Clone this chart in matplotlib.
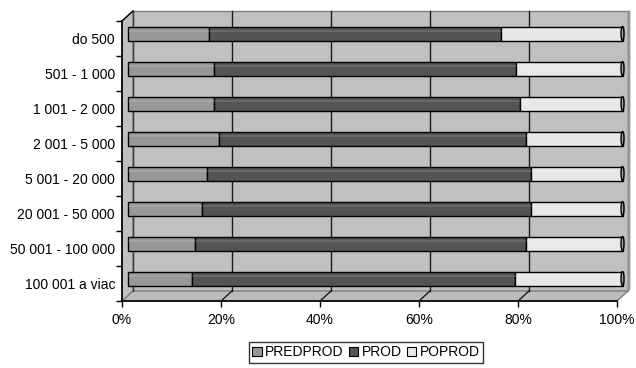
import numpy as np
import matplotlib
matplotlib.use('Agg')
import matplotlib.pyplot as plt
from matplotlib.patches import Polygon, Rectangle, Ellipse
from matplotlib.transforms import ScaledTranslation
from matplotlib.lines import Line2D

plt.rcParams['font.family'] = ['Liberation Sans', 'DejaVu Sans']

# Data (share in %)
categories = ['do 500', '501 - 1 000', '1 001 - 2 000', '2 001 - 5 000',
              '5 001 - 20 000', '20 001 - 50 000', '50 001 - 100 000', '100 001 a viac']
predprod = [16.5, 17.5, 17.5, 18.5, 16.0, 15.0, 13.7, 13.0]
prod = [59.0, 61.0, 61.8, 62.0, 65.5, 66.5, 66.8, 65.3]
poprod = [24.5, 21.5, 20.7, 19.5, 18.5, 18.5, 19.5, 21.7]
series_names = ['PREDPROD', 'PROD', 'POPROD']
colors = ['#989898', '#545454', '#e8e8e8']
xticks = [0, 20, 40, 60, 80, 100]

W, H = 636, 368
fig = plt.figure(figsize=(W / 100, H / 100), dpi=100)
ax = fig.add_axes([122 / W, 1 - 301 / H, 495 / W, 280 / H])
ax.set_xlim(0, 100)
ax.set_ylim(len(categories) - 0.5, -0.5)
for s in ax.spines.values():
    s.set_visible(False)
ax.patch.set_visible(False)

DX, DY = 11, 10  # depth offset in pixels
back = ax.transData + ScaledTranslation(DX / 100, DY / 100, fig.dpi_scale_trans)
mid = ax.transData + ScaledTranslation(DX / 200, DY / 200, fig.dpi_scale_trans)


def disp(x, y, dx=0, dy=0):
    px, py = ax.transAxes.transform((x, y))
    return (px + dx, py + dy)


# back wall, side wall, floor
wall = Polygon([disp(0, 0, DX, DY), disp(1, 0, DX, DY), disp(1, 1, DX, DY), disp(0, 1, DX, DY)],
               closed=True, transform=None, facecolor='#c0c0c0', edgecolor='#808080', lw=1, zorder=0)
side = Polygon([disp(0, 0), disp(0, 0, DX, DY), disp(0, 1, DX, DY), disp(0, 1)],
               closed=True, transform=None, facecolor='#c0c0c0', edgecolor='#808080', lw=1, zorder=0)
floor = Polygon([disp(0, 0), disp(1, 0), disp(1, 0, DX, DY), disp(0, 0, DX, DY)],
                closed=True, transform=None, facecolor='#bcbcbc', edgecolor='#808080', lw=1, zorder=0)
rside = Polygon([disp(1, 0, DX, DY), disp(1, 0, DX + 2, DY + 2), disp(1, 1, DX + 2, DY), disp(1, 1, DX, DY)],
                closed=True, transform=None, facecolor='#9a9a9a', edgecolor='#909090', lw=0.5, zorder=0)
for p in (wall, side, floor, rside):
    fig.add_artist(p)

# gridlines on back wall and floor
ylo, yhi = ax.get_ylim()
for xt in xticks[1:-1]:
    ax.plot([xt, xt], [ylo, yhi], color='#1a1a1a', lw=1, transform=back, zorder=1, clip_on=False)
    p0 = ax.transData.transform((xt, ylo))
    fig.add_artist(Line2D([p0[0], p0[0] + DX], [p0[1], p0[1] + DY], color='#1a1a1a', lw=1,
                          transform=None, zorder=1))
ax.plot([0, 0], [ylo, yhi], color='#404040', lw=1, transform=back, zorder=1, clip_on=False)
tl = disp(0, 1)
fig.add_artist(Line2D([tl[0], tl[0] + DX], [tl[1], tl[1] + DY], color='black', lw=1, transform=None))

# bars
y = np.arange(len(categories))
left = np.zeros(len(categories))
bh = 0.4
for vals, col, name in zip([predprod, prod, poprod], colors, series_names):
    vals = np.array(vals)
    ax.barh(y, vals, left=left, height=bh, color=col, edgecolor='black', lw=1,
            transform=mid, zorder=3, clip_on=False, label=name)
    # light band for cylinder look
    ax.barh(y - bh * 0.18, vals, left=left, height=bh * 0.2, color='white', alpha=0.12,
            lw=0, transform=mid, zorder=4, clip_on=False)
    left = left + vals
# end caps
for yi, xe in zip(y, left):
    ax.add_patch(Ellipse((xe, yi), 0.6, bh, facecolor='#a0a0a0', edgecolor='black', lw=1,
                         transform=mid, zorder=5, clip_on=False))

# front axes lines and ticks
ax.plot([0, 0], [ylo, yhi], color='black', lw=1.2, clip_on=False, zorder=6)
ax.plot([0, 100], [ylo, ylo], color='black', lw=1.2, clip_on=False, zorder=6)
ax.set_xticks(xticks)
ax.set_xticklabels([f'{v}%' for v in xticks], fontsize=10)
ax.tick_params(axis='x', length=4, width=1, pad=5)
ax.set_yticks(y)
ax.set_yticklabels(categories, fontsize=10)
ax.set_yticks(np.arange(len(categories) + 1) - 0.5, minor=True)
ax.tick_params(axis='y', which='major', length=0, pad=5)
ax.tick_params(axis='y', which='minor', length=4, width=1)

handles = [Rectangle((0, 0), 1, 1, facecolor=c, edgecolor='black', lw=0.8) for c in colors]
fig.legend(handles, series_names, loc='upper center', bbox_to_anchor=(366 / W, 1 - 342 / H),
           ncol=3, fontsize=10, frameon=True, fancybox=False, edgecolor='black',
           handlelength=0.7, handleheight=0.7, handletextpad=0.25, columnspacing=0.35,
           borderpad=0.25, borderaxespad=0)

fig.savefig('out.png', dpi=100)
